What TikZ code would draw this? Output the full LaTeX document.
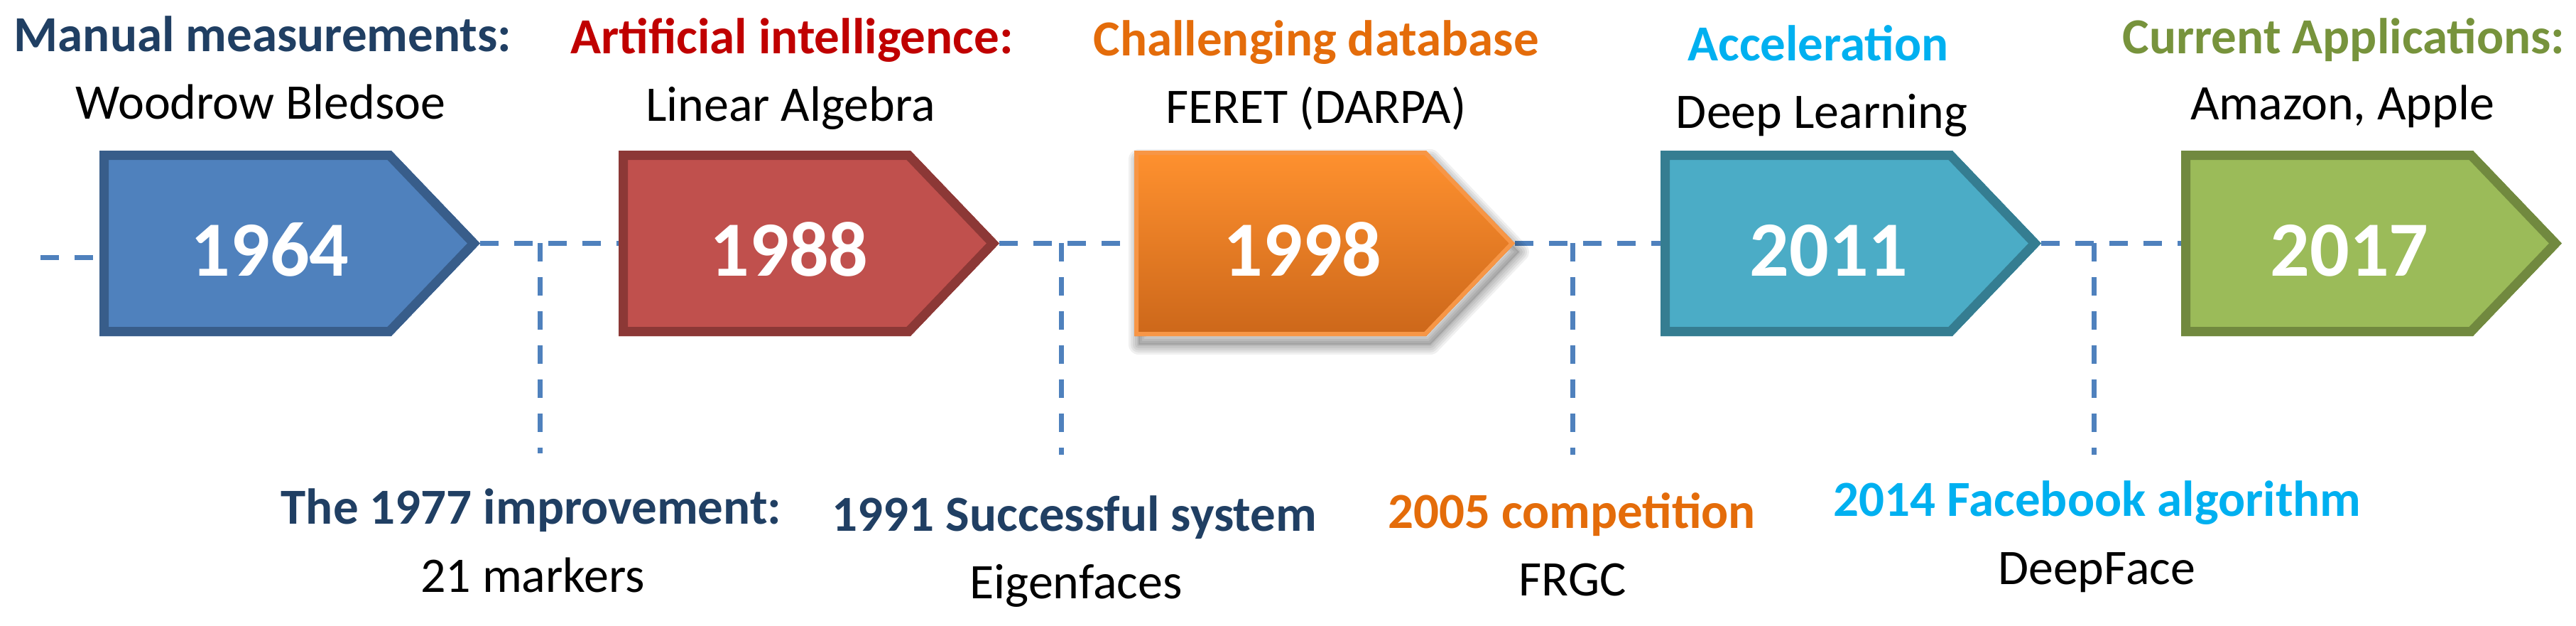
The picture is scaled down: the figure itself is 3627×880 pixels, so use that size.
\documentclass[tikz,border=0pt]{standalone}
\usepackage{fontspec}
\setmainfont{Carlito}
\definecolor{linecol}{HTML}{4F81BD}
\definecolor{navy}{HTML}{203F63}
\definecolor{redt}{HTML}{C00000}
\definecolor{oranget}{HTML}{E46C0A}
\definecolor{cyant}{HTML}{00B0F0}
\definecolor{greent}{HTML}{77933C}
\definecolor{f1}{HTML}{4F81BD}\definecolor{d1}{HTML}{385D8A}
\definecolor{f2}{HTML}{C0504D}\definecolor{d2}{HTML}{8C3836}
\definecolor{f4}{HTML}{4BACC6}\definecolor{d4}{HTML}{357D91}
\definecolor{f5}{HTML}{9BBB59}\definecolor{d5}{HTML}{71893F}
\definecolor{otop}{HTML}{FF912F}\definecolor{obot}{HTML}{CC671A}
\definecolor{oborder}{HTML}{F79646}
\newcommand{\chevpath}[1]{(#1,212) -- (#1+411,212) -- (#1+536,342.5) -- (#1+411,473) -- (#1,473) -- cycle}
\tikzset{
  dashline/.style={draw=linecol, line width=3.5pt, dash pattern=on 13pt off 11pt},
  ttl/.style={anchor=base, inner sep=0pt, font=\fontsize{35.5}{40}\selectfont\bfseries},
  sub/.style={anchor=base, inner sep=0pt, font=\fontsize{35}{40}\selectfont, text=black},
  yr/.style={anchor=base, inner sep=0pt, font=\fontsize{55}{60}\selectfont\bfseries, text=white},
}
\begin{document}
\begin{tikzpicture}[x=0.5pt,y=-0.5pt]
\useasboundingbox (0,0) rectangle (3627,880);
\fill[white] (0,0) rectangle (3627,880);

% coordinates of box ends
\coordinate (b1l) at (140,342);  \coordinate (b1t) at (676,342);
\coordinate (b2l) at (871,342);  \coordinate (b2t) at (1407,342);
\coordinate (b3l) at (1597,342); \coordinate (b3t) at (2133,342);
\coordinate (b4l) at (2338,342); \coordinate (b4t) at (2874,342);
\coordinate (b5l) at (3071,342);
\coordinate (start) at (57,362); \coordinate (b1lw) at (140,362);

% connectors
\draw[dashline] (start) -- (b1lw);
\draw[dashline] (b1t) -- (b2l);
\draw[dashline] (b2t) -- (b3l);
\draw[dashline] (b3t) -- (b4l);
\draw[dashline] (b4t) -- (b5l);

\coordinate (v1a) at (760,342);  \coordinate (v1b) at (760,638);
\coordinate (v2a) at (1494,342); \coordinate (v2b) at (1494,640);
\coordinate (v3a) at (2214,342); \coordinate (v3b) at (2214,640);
\coordinate (v4a) at (2948,342); \coordinate (v4b) at (2948,640);
\draw[dashline] (v1a) -- (v1b);
\draw[dashline] (v2a) -- (v2b);
\draw[dashline] (v3a) -- (v3b);
\draw[dashline] (v4a) -- (v4b);

% standard chevrons
\foreach \L/\f/\d in {140/f1/d1, 871/f2/d2, 2338/f4/d4, 3071/f5/d5}{
  \begin{scope}
    \clip \chevpath{\L};
    \fill[\f] \chevpath{\L};
    \draw[\d, line width=13pt] \chevpath{\L};
  \end{scope}
}

% orange chevron with shadow and gradient
\begin{scope}[shift={(6,12)}]
  \foreach \w in {14,11,8,5,2}{
    \draw[black, opacity=0.06, line width=\w pt, line join=round] \chevpath{1597};
  }
  \fill[black, opacity=0.12] \chevpath{1597};
\end{scope}
\begin{scope}
  \clip \chevpath{1597};
  \shade[top color=otop, bottom color=obot] \chevpath{1597};
  \draw[oborder, line width=6pt] \chevpath{1597};
\end{scope}

% year labels
\node[yr] (y1) at (380,388) {1964};
\node[yr] (y2) at (1111,388) {1988};
\node[yr] (y3) at (1834,388) {1998};
\node[yr] (y4) at (2575,388) {2011};
\node[yr] (y5) at (3308,388) {2017};

% top titles
\node[ttl, text=navy]    (t1) at (370,72)  {Manual measurements:};
\node[ttl, text=redt]    (t2) at (1115,75) {Artificial intelligence:};
\node[ttl, text=oranget] (t3) at (1853,78) {Challenging database};
\node[ttl, text=cyant]   (t4) at (2560,85) {Acceleration};
\node[ttl, text=greent]  (t5) at (3300,75) {Current Applications:};

\node[sub] (s1) at (367,167)  {Woodrow Bledsoe};
\node[sub] (s2) at (1113,170) {Linear Algebra};
\node[sub] (s3) at (1853,173) {FERET (DARPA)};
\node[sub] (s4) at (2565,180) {Deep Learning};
\node[sub] (s5) at (3298,168) {Amazon, Apple};

% bottom labels
\node[ttl, text=navy]    (u1) at (748,737)  {The 1977 improvement:};
\node[ttl, text=navy]    (u2) at (1513,747) {1991 Successful system};
\node[ttl, text=oranget] (u3) at (2213,743) {2005 competition};
\node[ttl, text=cyant]   (u4) at (2953,726) {2014 Facebook algorithm};

\node[sub] (w1) at (750,833)  {21 markers};
\node[sub] (w2) at (1515,842) {Eigenfaces};
\node[sub] (w3) at (2214,838) {FRGC};
\node[sub] (w4) at (2952,822) {DeepFace};
\end{tikzpicture}
\end{document}
